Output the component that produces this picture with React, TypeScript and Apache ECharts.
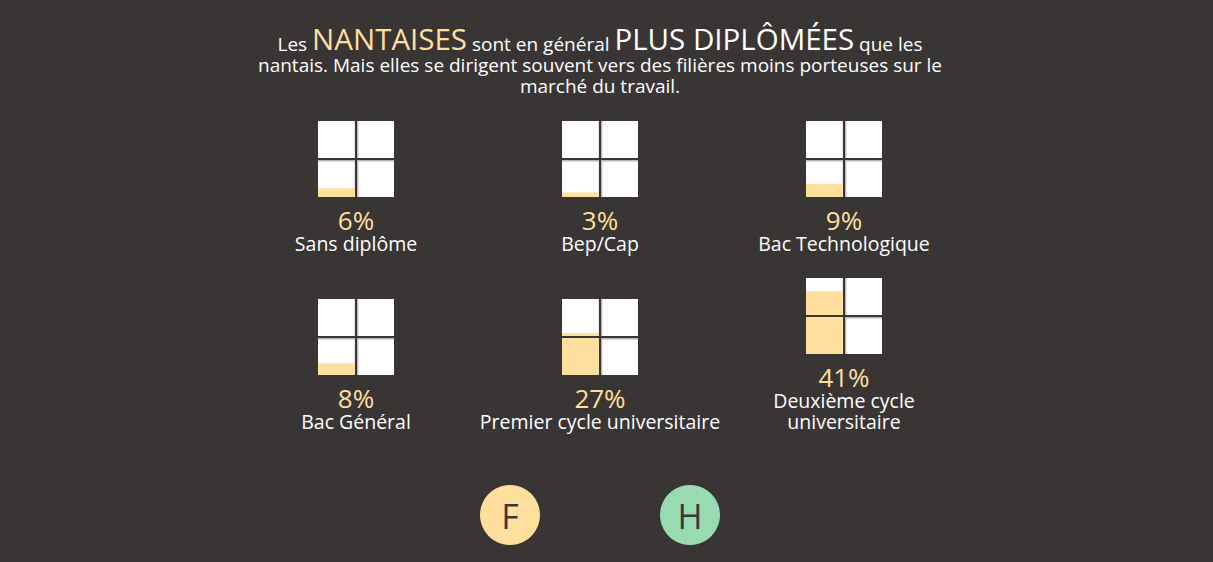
import React, { useEffect, useRef } from "react";
import * as echarts from "echarts";

// ---- data ----
const categories = [
  "Sans diplôme",
  "Bep/Cap",
  "Bac Technologique",
  "Bac Général",
  "Premier cycle universitaire",
  "Deuxième cycle\nuniversitaire",
];
const femmesPct = [6, 3, 9, 8, 27, 41];
const legendLetters = ["F", "H"];
const titleLines = [
  "{n|Les }{a|NANTAISES}{n| sont en général }{b|PLUS DIPLÔMÉES}{n| que les}",
  "{n|nantais. Mais elles se dirigent souvent vers des filières moins porteuses sur le}",
  "{n|marché du travail.}",
];

// ---- layout / style ----
const BG = "#393534";
const FILL = "#FFDF9E";
const GREEN = "#98DBB0";
const FONT = '"Open Sans", sans-serif';
const panelLeft = [318, 562, 806, 318, 562, 806];
const panelTop = [121, 121, 121, 299, 299, 278];
const SIZE = 76;
const QUARTER = 25;

// split a percentage into the four quarter squares (bottom-left, top-left, bottom-right, top-right)
function squaresFor(v: number) {
  const order = [
    [0, 0],
    [0, 1],
    [1, 0],
    [1, 1],
  ];
  return order.map(([col, row], k) => {
    const f = Math.max(0, Math.min(QUARTER, v - k * QUARTER));
    return [col, row, f];
  });
}

export default function App() {
  const ref = useRef<HTMLDivElement>(null);
  useEffect(() => {
    document.body.style.margin = "0";
    document.body.style.background = BG;
    const chart = echarts.init(ref.current!, null, { renderer: "svg" });

    const grids: any[] = [];
    const xAxes: any[] = [];
    const yAxes: any[] = [];
    const series: any[] = [];
    const graphics: any[] = [];

    femmesPct.forEach((v, i) => {
      grids.push({ left: panelLeft[i], top: panelTop[i], width: SIZE, height: SIZE });
      xAxes.push({ type: "value", min: 0, max: 2, show: false, gridIndex: i });
      yAxes.push({ type: "value", min: 0, max: 2 * QUARTER, show: false, gridIndex: i });
      series.push({
        type: "custom",
        xAxisIndex: i,
        yAxisIndex: i,
        silent: true,
        data: squaresFor(v),
        renderItem: (params: any, api: any) => {
          const col = api.value(0);
          const row = api.value(1);
          const fill = api.value(2);
          const p0 = api.coord([col, row * QUARTER]);
          const p1 = api.coord([col + 1, (row + 1) * QUARTER]);
          const g = 1.1;
          const x0 = p0[0] + (col === 1 ? g : 0);
          const x1 = p1[0] - (col === 0 ? g : 0);
          const yb = p0[1] - (row === 1 ? g : 0);
          const yt = p1[1] + (row === 0 ? g : 0);
          const h = yb - yt;
          const children: any[] = [
            { type: "rect", shape: { x: x0, y: yt, width: x1 - x0, height: h }, style: { fill: "#ffffff" } },
          ];
          if (col === 1) {
            children.push({ type: "rect", shape: { x: x0, y: yt, width: 1.3, height: h }, style: { fill: "#b9b6b4" } });
          }
          if (row === 0) {
            children.push({ type: "rect", shape: { x: x0, y: yt, width: x1 - x0, height: 1.3 }, style: { fill: "#b9b6b4" } });
          }
          if (fill > 0) {
            const fh = (h * fill) / QUARTER;
            children.push({ type: "rect", shape: { x: x0, y: yb - fh, width: x1 - x0, height: fh }, style: { fill: FILL } });
          }
          return { type: "group", children };
        },
      });
      const cx = panelLeft[i] + SIZE / 2;
      const bottom = panelTop[i] + SIZE;
      graphics.push({
        type: "text",
        x: cx,
        y: bottom + 22.5,
        style: {
          text: v + "%",
          fill: FILL,
          font: `26px ${FONT}`,
          lineHeight: 20,
          align: "center",
          verticalAlign: "middle",
        },
      });
      graphics.push({
        type: "text",
        x: cx,
        y: bottom + 35.5,
        style: {
          text: categories[i],
          fill: "#ffffff",
          font: `19.5px ${FONT}`,
          lineHeight: 21,
          align: "center",
          verticalAlign: "top",
        },
      });
    });

    graphics.push({
      type: "text",
      x: 600,
      y: 23,
      style: {
        text: titleLines.join("\n"),
        align: "center",
        verticalAlign: "top",
        fill: "#ffffff",
        rich: {
          n: { fontSize: 19, fontFamily: FONT, fill: "#ffffff", lineHeight: 21, verticalAlign: "bottom" },
          a: { fontSize: 29.5, fontFamily: FONT, fill: FILL, lineHeight: 30, verticalAlign: "bottom" },
          b: { fontSize: 29.5, fontFamily: FONT, fill: "#ffffff", lineHeight: 30, verticalAlign: "bottom" },
        },
      },
    });

    const legendX = [510, 690];
    const legendColors = [FILL, GREEN];
    legendLetters.forEach((l, k) => {
      graphics.push({
        type: "circle",
        shape: { cx: legendX[k], cy: 515, r: 30 },
        style: { fill: legendColors[k] },
      });
      graphics.push({
        type: "text",
        x: legendX[k],
        y: 516,
        style: { text: l, fill: "#3d3837", font: `34px ${FONT}`, align: "center", verticalAlign: "middle" },
      });
    });

    chart.setOption({
      animation: false,
      backgroundColor: BG,
      grid: grids,
      xAxis: xAxes,
      yAxis: yAxes,
      series,
      graphic: graphics,
    });
    return () => chart.dispose();
  }, []);
  return <div ref={ref} style={{ width: 1213, height: 562 }} />;
}
